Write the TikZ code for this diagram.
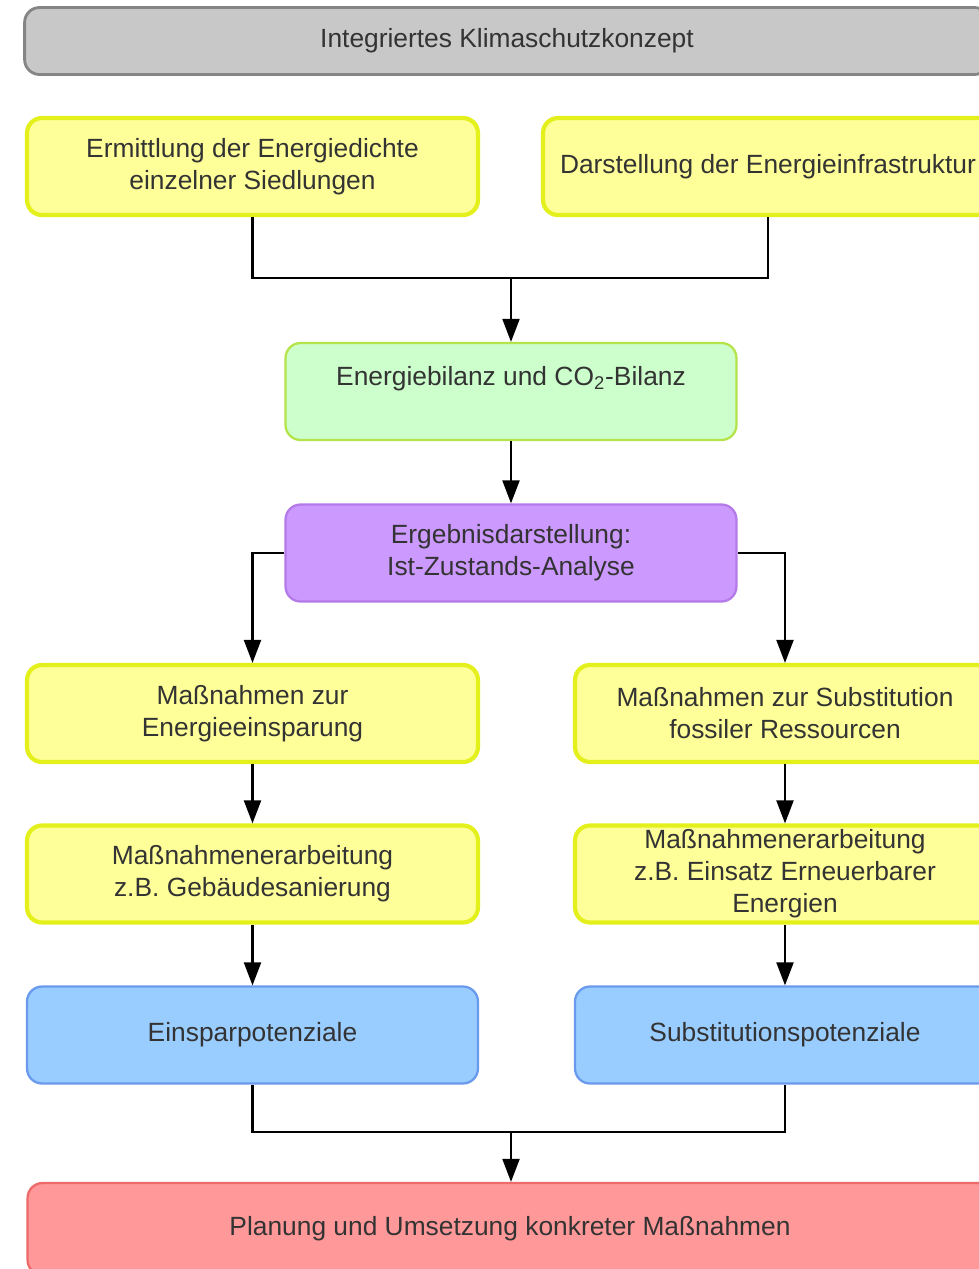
\documentclass[tikz,border=0pt]{standalone}
\usepackage{fontspec}
\setmainfont{Liberation Sans}
\usetikzlibrary{arrows.meta,calc}
\definecolor{txt}{HTML}{333333}
\definecolor{grayfill}{HTML}{C8C8C8}\definecolor{graydraw}{HTML}{858585}
\definecolor{yelfill}{HTML}{FFFF99}\definecolor{yeldraw}{HTML}{E4F01C}
\definecolor{grnfill}{HTML}{CCFFCC}\definecolor{grndraw}{HTML}{B4E34A}
\definecolor{purfill}{HTML}{CC99FF}\definecolor{purdraw}{HTML}{B47AE8}
\definecolor{blufill}{HTML}{99CCFF}\definecolor{bludraw}{HTML}{6A9AEE}
\definecolor{redfill}{HTML}{FF9999}\definecolor{reddraw}{HTML}{EE6A6A}
\begin{document}
\begin{tikzpicture}[x=0.02cm,y=-0.02cm,
  box/.style={rounded corners=0.3cm, align=center, text=txt, inner sep=0pt,
    font=\fontsize{15pt}{18.2pt}\selectfont, minimum width=9.02cm, minimum height=1.94cm},
  graybox/.style={box, fill=grayfill, draw=graydraw, line width=1.6pt, minimum height=1.34cm},
  yelbox/.style={box, fill=yelfill, draw=yeldraw, line width=2.4pt},
  grnbox/.style={box, fill=grnfill, draw=grndraw, line width=1.3pt},
  purbox/.style={box, fill=purfill, draw=purdraw, line width=1.3pt},
  blubox/.style={box, fill=blufill, draw=bludraw, line width=1.3pt},
  redbox/.style={box, fill=redfill, draw=reddraw, line width=1.3pt},
  conn/.style={line width=1.2pt, black},
  arr/.style={conn, -{Triangle[length=0.46cm,width=0.34cm]}}]
\useasboundingbox (0,0) rectangle (979,1269);
\clip (0,0) rectangle (979,1269);
\fill[white] (0,0) rectangle (979,1269);

\node[graybox, minimum width=19.3cm] (top) at (507,41) {Integriertes Klimaschutzkonzept};

\node[yelbox] (y1) at (252.5,166.5) {Ermittlung der Energiedichte\\einzelner Siedlungen};
\node[yelbox, minimum width=9.0cm] (y2) at (768,166.5) {Darstellung der Energieinfrastruktur};

\node[grnbox] (gr) at (511,391.5) {Energiebilanz und CO\textsubscript{2}-Bilanz\\~};
\node[purbox] (pu) at (511,553) {Ergebnisdarstellung:\\Ist-Zustands-Analyse};

\node[yelbox] (y3) at (252.5,713.5) {Maßnahmen zur\\Energieeinsparung};
\node[yelbox, minimum width=8.4cm] (y4) at (785,713.5) {Maßnahmen zur Substitution\\fossiler Ressourcen};
\node[yelbox] (y5) at (252.5,874) {Maßnahmenerarbeitung\\z.B. Gebäudesanierung};
\node[yelbox, minimum width=8.4cm] (y6) at (785,874) {Maßnahmenerarbeitung\\z.B. Einsatz Erneuerbarer\\Energien};

\node[blubox] (b1) at (252.5,1035) {Einsparpotenziale};
\node[blubox, minimum width=8.4cm] (b2) at (785,1035) {Substitutionspotenziale};

\node[redbox, minimum width=19.3cm, minimum height=1.84cm] (rd) at (510,1229) {Planung und Umsetzung konkreter Maßnahmen};

\coordinate (j1) at (511,278);
\coordinate (j2) at (511,1132);

\draw[conn] (y1.south) |- (j1) -| (y2.south);
\draw[arr] (j1) -- (j1 |- gr.north);
\draw[arr] (gr.south) -- (pu.north);
\draw[arr] (pu.west) -| (y3.north);
\draw[arr] (pu.east) -| (y4.north);
\draw[arr] (y3.south) -- (y5.north);
\draw[arr] (y4.south) -- (y6.north);
\draw[arr] (y5.south) -- (b1.north);
\draw[arr] (y6.south) -- (b2.north);
\draw[conn] (b1.south) |- (j2) -| (b2.south);
\draw[arr] (j2) -- (j2 |- rd.north);
\end{tikzpicture}
\end{document}
